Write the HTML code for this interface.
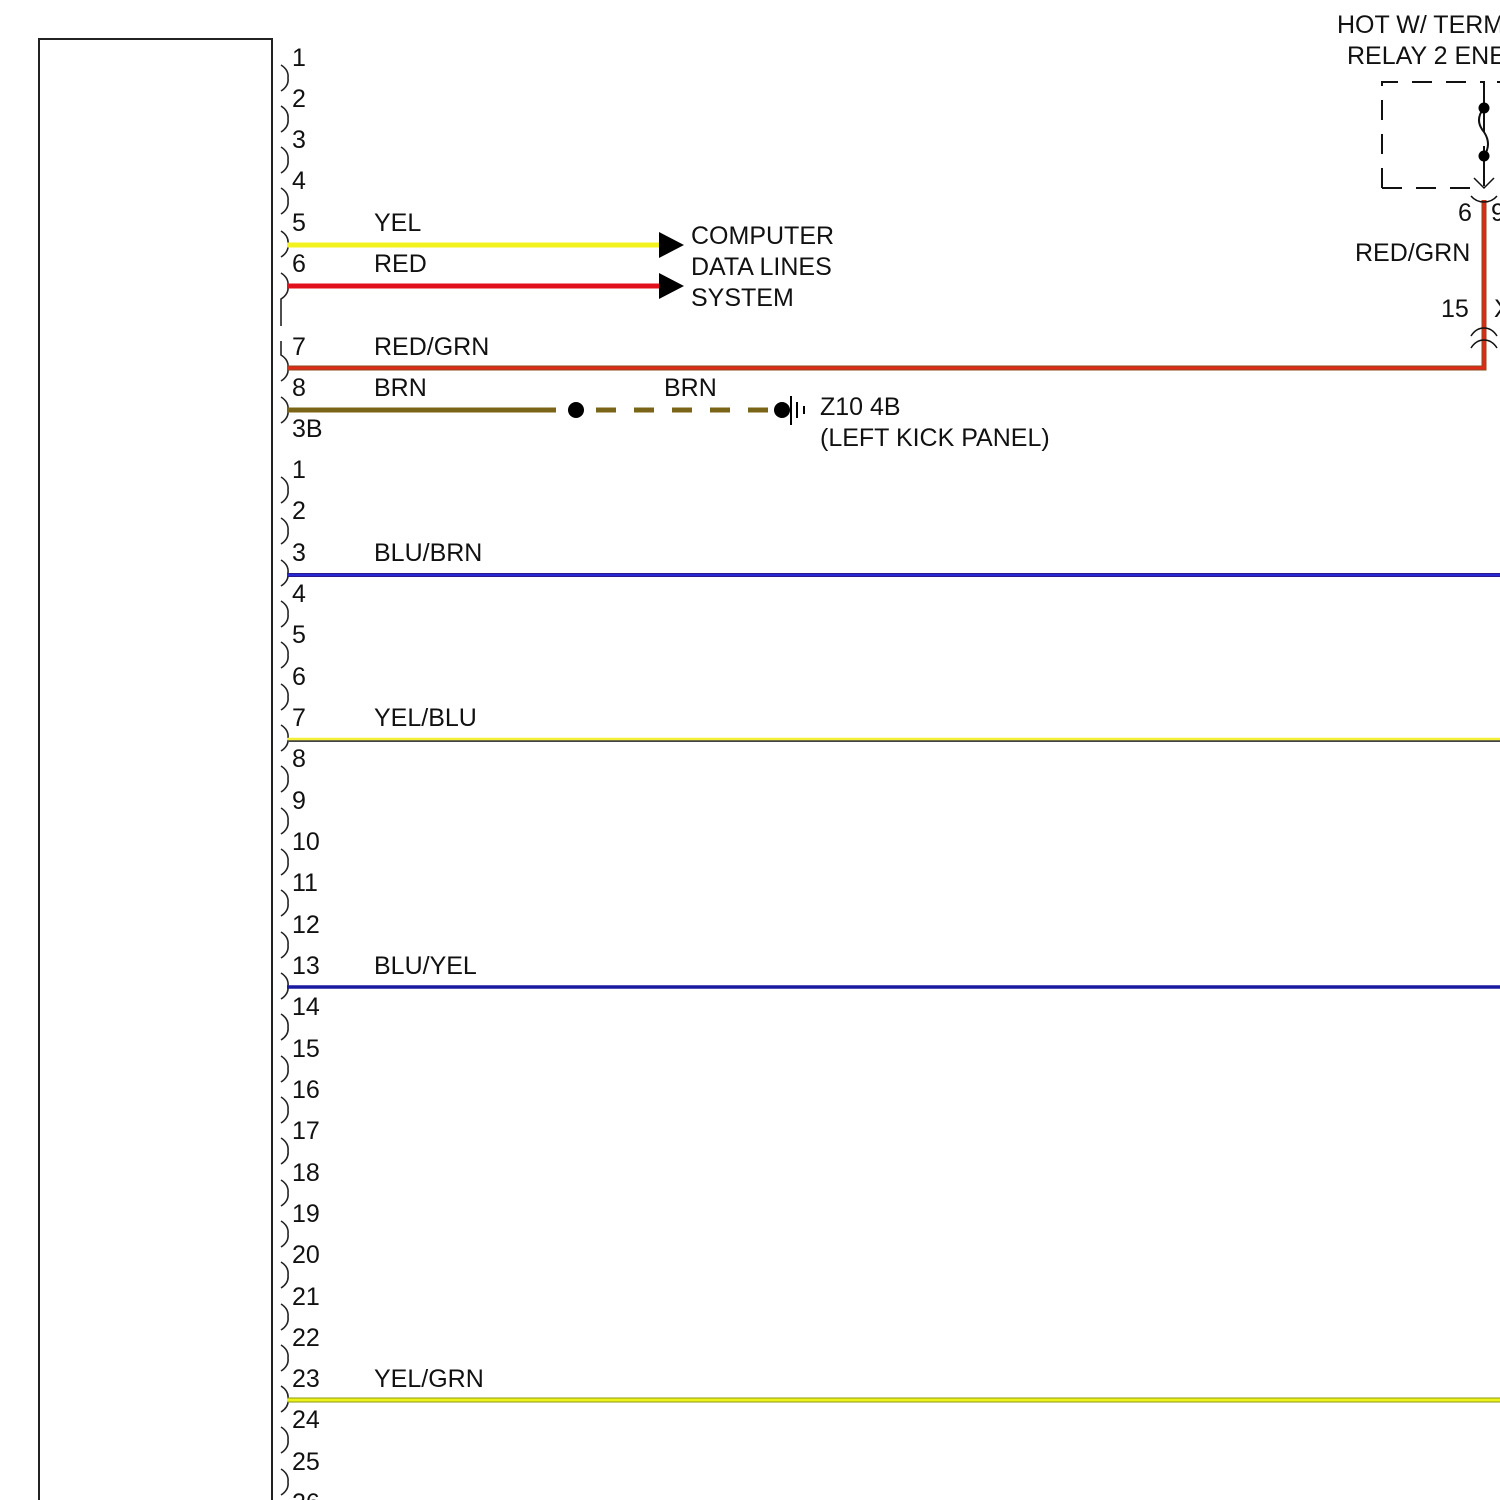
<!DOCTYPE html>
<html><head><meta charset="utf-8"><style>
html,body{margin:0;padding:0;background:#fff;}
svg{display:block;}
text{font-family:"Liberation Sans",Arial,sans-serif;font-size:25px;fill:#111;}
</style></head><body>
<svg width="1500" height="1500" viewBox="0 0 1500 1500" xmlns="http://www.w3.org/2000/svg">
<rect width="1500" height="1500" fill="#fff"/>
<path d="M39,1500 V39 H272 V1500" fill="none" stroke="#222" stroke-width="2"/>
<g fill="none" stroke="#222" stroke-width="1.6">
<path d="M281,65 Q289,70 288,78 Q289,86 281,91"/>
<path d="M281,106 Q289,111 288,119 Q289,127 281,132"/>
<path d="M281,147 Q289,152 288,160 Q289,168 281,173"/>
<path d="M281,188 Q289,193 288,201 Q289,209 281,214"/>
<path d="M281,231 Q289,236 288,244 Q289,252 281,257"/>
<path d="M281,273 Q289,278 288,286 Q289,294 281,299 V326"/>
<path d="M281,341 V355 Q289,360 288,368 Q289,376 281,381"/>
<path d="M281,397 Q289,402 288,410 Q289,418 281,423"/>
<path d="M281,477 Q289,482 288,490 Q289,498 281,503"/>
<path d="M281,518 Q289,523 288,531 Q289,539 281,544"/>
<path d="M281,560 Q289,565 288,573 Q289,581 281,586"/>
<path d="M281,601 Q289,606 288,614 Q289,622 281,627"/>
<path d="M281,642 Q289,647 288,655 Q289,663 281,668"/>
<path d="M281,684 Q289,689 288,697 Q289,705 281,710"/>
<path d="M281,725 Q289,730 288,738 Q289,746 281,751"/>
<path d="M281,766 Q289,771 288,779 Q289,787 281,792"/>
<path d="M281,808 Q289,813 288,821 Q289,829 281,834"/>
<path d="M281,849 Q289,854 288,862 Q289,870 281,875"/>
<path d="M281,890 Q289,895 288,903 Q289,911 281,916"/>
<path d="M281,932 Q289,937 288,945 Q289,953 281,958"/>
<path d="M281,973 Q289,978 288,986 Q289,994 281,999"/>
<path d="M281,1014 Q289,1019 288,1027 Q289,1035 281,1040"/>
<path d="M281,1056 Q289,1061 288,1069 Q289,1077 281,1082"/>
<path d="M281,1097 Q289,1102 288,1110 Q289,1118 281,1123"/>
<path d="M281,1138 Q289,1143 288,1151 Q289,1159 281,1164"/>
<path d="M281,1180 Q289,1185 288,1193 Q289,1201 281,1206"/>
<path d="M281,1221 Q289,1226 288,1234 Q289,1242 281,1247"/>
<path d="M281,1262 Q289,1267 288,1275 Q289,1283 281,1288"/>
<path d="M281,1304 Q289,1309 288,1317 Q289,1325 281,1330"/>
<path d="M281,1345 Q289,1350 288,1358 Q289,1366 281,1371"/>
<path d="M281,1386 Q289,1391 288,1399 Q289,1407 281,1412"/>
<path d="M281,1427 Q289,1432 288,1440 Q289,1448 281,1453"/>
<path d="M281,1469 Q289,1474 288,1482 Q289,1490 281,1495"/>
</g>
<text x="292" y="66">1</text>
<text x="292" y="107">2</text>
<text x="292" y="148">3</text>
<text x="292" y="189">4</text>
<text x="292" y="231">5</text>
<text x="292" y="272">6</text>
<text x="292" y="355">7</text>
<text x="292" y="396">8</text>
<text x="292" y="437">3B</text>
<text x="292" y="478">1</text>
<text x="292" y="519">2</text>
<text x="292" y="561">3</text>
<text x="292" y="602">4</text>
<text x="292" y="643">5</text>
<text x="292" y="685">6</text>
<text x="292" y="726">7</text>
<text x="292" y="767">8</text>
<text x="292" y="809">9</text>
<text x="292" y="850">10</text>
<text x="292" y="891">11</text>
<text x="292" y="933">12</text>
<text x="292" y="974">13</text>
<text x="292" y="1015">14</text>
<text x="292" y="1057">15</text>
<text x="292" y="1098">16</text>
<text x="292" y="1139">17</text>
<text x="292" y="1181">18</text>
<text x="292" y="1222">19</text>
<text x="292" y="1263">20</text>
<text x="292" y="1305">21</text>
<text x="292" y="1346">22</text>
<text x="292" y="1387">23</text>
<text x="292" y="1428">24</text>
<text x="292" y="1470">25</text>
<text x="292" y="1511">26</text>
<text x="374" y="231">YEL</text>
<text x="374" y="272">RED</text>
<text x="374" y="355">RED/GRN</text>
<text x="374" y="396">BRN</text>
<text x="664" y="396">BRN</text>
<text x="374" y="561">BLU/BRN</text>
<text x="374" y="726">YEL/BLU</text>
<text x="374" y="974">BLU/YEL</text>
<text x="374" y="1387">YEL/GRN</text>
<line x1="287" y1="245" x2="660" y2="245" stroke="#f2f21e" stroke-width="5"/>
<line x1="287" y1="286" x2="660" y2="286" stroke="#e0101c" stroke-width="5"/>
<polygon points="659,232 684,245 659,258" fill="#000"/>
<polygon points="659,273 684,286 659,299" fill="#000"/>
<text x="691" y="244">COMPUTER</text>
<text x="691" y="275">DATA LINES</text>
<text x="691" y="306">SYSTEM</text>
<path d="M287,368 H1484 V200" fill="none" stroke="#8a4a1a" stroke-width="5"/>
<path d="M287,368 H1484 V200" fill="none" stroke="#e02a18" stroke-width="3"/>
<line x1="287" y1="410" x2="556" y2="410" stroke="#7a6418" stroke-width="5"/>
<line x1="596" y1="410" x2="782" y2="410" stroke="#7a6418" stroke-width="5" stroke-dasharray="20,18"/>
<circle cx="576" cy="410" r="8" fill="#000"/>
<circle cx="782" cy="410" r="8" fill="#000"/>
<line x1="791" y1="396" x2="791" y2="425" stroke="#000" stroke-width="2"/>
<line x1="797" y1="402" x2="797" y2="418" stroke="#000" stroke-width="2"/>
<line x1="804" y1="406" x2="804" y2="414" stroke="#000" stroke-width="2"/>
<text x="820" y="415">Z10 4B</text>
<text x="820" y="446">(LEFT KICK PANEL)</text>
<line x1="287" y1="575" x2="1500" y2="575" stroke="#2a1a90" stroke-width="4"/>
<line x1="287" y1="575" x2="1500" y2="575" stroke="#2828d0" stroke-width="2"/>
<line x1="287" y1="740" x2="1500" y2="740" stroke="#444" stroke-width="4"/>
<line x1="287" y1="739" x2="1500" y2="739" stroke="#f4f03a" stroke-width="2.5"/>
<line x1="287" y1="987" x2="1500" y2="987" stroke="#1a1aa0" stroke-width="3.5"/>
<line x1="287" y1="1400" x2="1500" y2="1400" stroke="#8a9a10" stroke-width="5"/>
<line x1="287" y1="1400" x2="1500" y2="1400" stroke="#eef21a" stroke-width="3"/>
<text x="1337" y="33">HOT W/ TERM</text>
<text x="1347" y="64">RELAY 2 ENE</text>
<path d="M1382,188 V82 H1484 V186 M1382,188 H1474" fill="none" stroke="#111" stroke-width="2" stroke-dasharray="20,14"/>
<path d="M1484,82 V108 Q1474,120 1484,132 Q1492,144 1484,156 V186" fill="none" stroke="#111" stroke-width="2"/>
<line x1="1497" y1="82" x2="1500" y2="82" stroke="#111" stroke-width="2"/>
<circle cx="1484" cy="108" r="5.5" fill="#000"/>
<circle cx="1484" cy="156" r="5.5" fill="#000"/>
<path d="M1474,178 L1484,188 L1494,178" fill="none" stroke="#111" stroke-width="1.5"/>
<path d="M1471,196 Q1476,202 1484,202 Q1492,202 1497,196" fill="none" stroke="#111" stroke-width="1.5"/>
<path d="M1471,336 Q1476,328 1484,328 Q1492,328 1497,336 M1471,348 Q1476,340 1484,340 Q1492,340 1497,348" fill="none" stroke="#111" stroke-width="1.5"/>
<text x="1458" y="221">6</text>
<text x="1491" y="221">9</text>
<text x="1355" y="261">RED/GRN</text>
<text x="1441" y="317">15</text>
<text x="1494" y="317">X</text>
</svg>
</body></html>
